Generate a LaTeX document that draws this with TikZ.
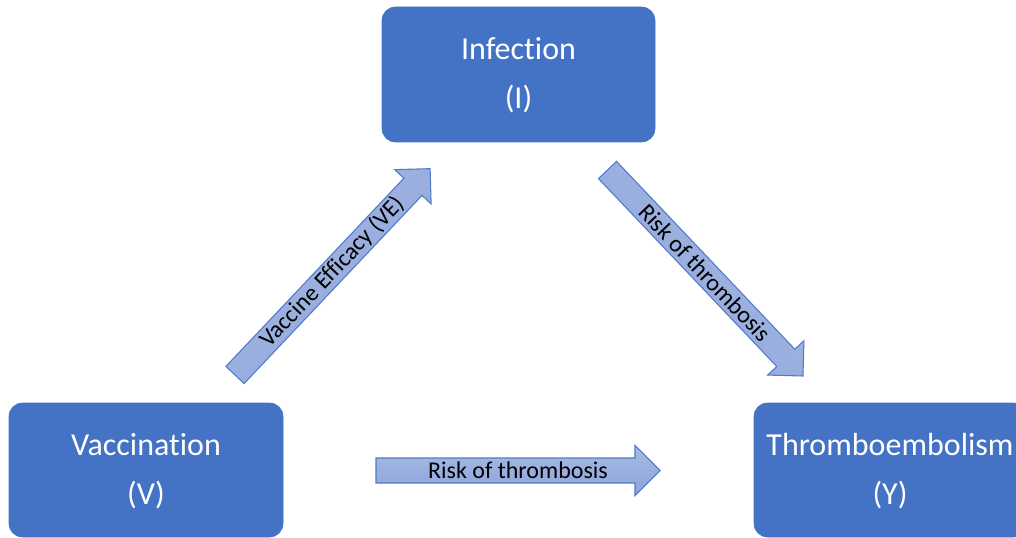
\documentclass[tikz,border=0pt]{standalone}
\usepackage{fontspec}
\setmainfont{Carlito}[Ligatures=NoCommon]
\definecolor{boxblue}{HTML}{4472C4}
\definecolor{arrlight}{HTML}{A9BBE5}
\definecolor{arrdark}{HTML}{8CA3D9}
\definecolor{arrline}{HTML}{4F7BC9}
\tikzset{
  boxnode/.style={rounded corners=10pt, fill=boxblue, draw=boxblue},
  boxtext/.style={text=white, align=center, font=\fontsize{24}{36.5}\selectfont},
  arrowtext/.style={text=black, font=\fontsize{18}{20}\selectfont, inner sep=0pt},
  blockarrowpath/.style={draw=arrline, line width=0.8pt, top color=arrlight, bottom color=arrdark, line join=miter},
}
\newcommand{\myblockarrow}[3]{%
  \begin{scope}[shift={#1}, rotate=#2]
    \path[blockarrowpath, shading angle=#3] (0,-12.5) -- (259,-12.5) -- (259,-25) -- (284,0) -- (259,25) -- (259,12.5) -- (0,12.5) -- cycle;
  \end{scope}}
\begin{document}
\begin{tikzpicture}[x=0.75pt,y=-0.75pt]
\useasboundingbox (0,0) rectangle (1016,538);
\begin{scope}
\clip (0,0) rectangle (1016,538);
% boxes
\path[boxnode] (382,7) rectangle (655,142);
\path[boxnode] (9,403) rectangle (283,537);
\path[boxnode] (754,403) rectangle (1027,537);
\node[boxtext] (inf) at (518.5,75) {Infection\\(I)};
\node[boxtext] (vac) at (146,471) {Vaccination\\(V)};
\node[boxtext] (thr) at (890,471) {Thromboembolism\\(Y)};
% block arrows
\myblockarrow{(235,375)}{46.6}{46.6}
\myblockarrow{(607.5,170)}{-46.5}{-46.5}
\myblockarrow{(376,470.5)}{0}{0}
\node[arrowtext, rotate=46.6] (ve) at (332.5,272) {Vaccine Efficacy (VE)};
\node[arrowtext, rotate=-46.5] (rt1) at (705,272.5) {Risk of thrombosis};
\node[arrowtext] (rt2) at (518,470) {Risk of thrombosis};
\end{scope}
\end{tikzpicture}
\end{document}
